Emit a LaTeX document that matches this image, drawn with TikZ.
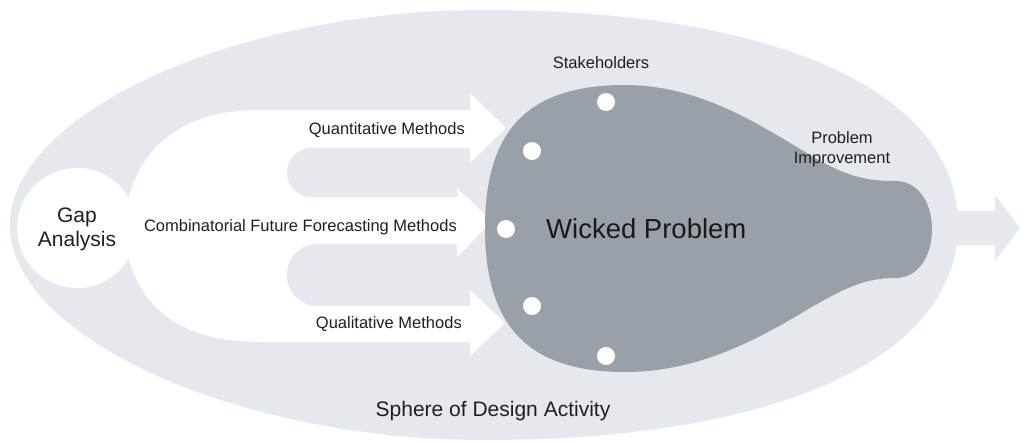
\documentclass[tikz,border=0pt]{standalone}
\usepackage{fontspec}
\setmainfont{Liberation Sans}
\definecolor{spheregray}{HTML}{E5E8EC}
\definecolor{problemgray}{HTML}{9AA0A8}
\definecolor{inktext}{HTML}{202020}
\begin{document}
\begin{tikzpicture}[x=1pt, y=-1pt,
  label/.style={inner sep=0pt, text=inktext, font=\fontsize{16.5}{19}\selectfont},
  biglabel/.style={inner sep=0pt, text=inktext, font=\fontsize{21}{23.5}\selectfont},
  stakeholder/.style={circle, fill=white, minimum size=18pt, inner sep=0pt}]
\useasboundingbox (0,0) rectangle (1023,442);
\fill[white] (0,0) rectangle (1023,442);

% sphere of design activity
\fill[spheregray] (10,225) .. controls (10,113) and (237,10) .. (484,10)
  .. controls (778,10) and (958,92) .. (958,225)
  .. controls (958,358) and (778,440) .. (484,440)
  .. controls (237,440) and (10,337) .. (10,225) -- cycle;

% outgoing arrow
\fill[spheregray] (940,211) -- (995,211) -- (995,195) -- (1020,228)
  -- (995,261) -- (995,245) -- (940,245) -- cycle;

% gap analysis circle and the field of methods
\fill[white] (77,228) circle[radius=60];
\fill[white] (128,200) .. controls (143,140) and (190,110) .. (260,110)
  -- (470,110) -- (470,342) -- (260,342)
  .. controls (190,342) and (143,315) .. (128,256) -- cycle;

% separators between the method streams
\fill[spheregray, rounded corners=24pt] (287,148) rectangle (560,197);
\fill[spheregray, rounded corners=30pt] (287,244) rectangle (560,306);

% arrow heads of the method streams
\fill[white] (470,93) -- (506,128) -- (470,163) -- cycle;
\fill[white] (457,188) -- (492,221) -- (457,257) -- cycle;
\fill[white] (470,290) -- (505,323) -- (470,356) -- cycle;

% wicked problem shape
\fill[problemgray] (485,228) .. controls (485,128) and (530,85) .. (625,85)
  .. controls (700,85) and (760,125) .. (810,155)
  .. controls (845,176) and (865,181) .. (895,181)
  .. controls (920,181) and (932,205) .. (932,229)
  .. controls (932,254) and (920,278) .. (895,278)
  .. controls (865,278) and (845,288) .. (810,308)
  .. controls (760,338) and (700,372) .. (625,372)
  .. controls (530,372) and (485,328) .. (485,228) -- cycle;

% stakeholders
\node[stakeholder] (s1) at (606,102) {};
\node[stakeholder] (s2) at (532,151) {};
\node[stakeholder] (s3) at (506,229) {};
\node[stakeholder] (s4) at (532,306) {};
\node[stakeholder] (s5) at (606,356) {};

% labels
\node[biglabel, align=center] (gap) at (77,229.5) {Gap\\Analysis};
\node[label, anchor=base east] (quant) at (465,134) {Quantitative Methods};
\node[label, anchor=base east] (comb) at (457,231) {Combinatorial Future Forecasting Methods};
\node[label, anchor=base east] (qual) at (462,328) {Qualitative Methods};
\node[biglabel, anchor=base] (sphere) at (493,416) {Sphere of Design Activity};
\node[label, anchor=base] (stake) at (601,68) {Stakeholders};
\node[label, anchor=base] (improveA) at (842,143) {Problem};
\node[label, anchor=base] (improveB) at (842,163) {Improvement};
\node[inner sep=0pt, text=black!90, font=\fontsize{27.5}{30}\selectfont, anchor=base west] (wicked) at (546,238) {Wicked Problem};
\end{tikzpicture}
\end{document}
